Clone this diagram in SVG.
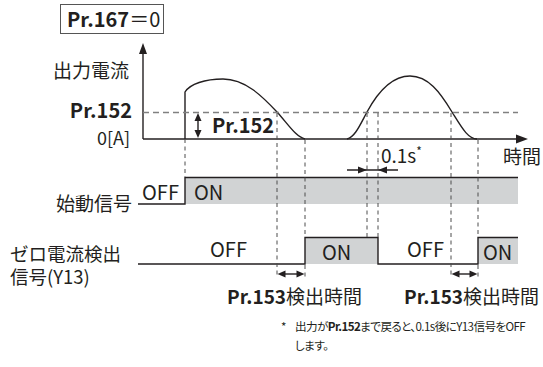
<svg xmlns="http://www.w3.org/2000/svg" width="543" height="367" viewBox="0 0 543 367">
<defs>
<style>
text{font-family:"Noto Sans CJK JP","Noto Sans",sans-serif;fill:#231f20}
.lbl{font-size:19px}
.sig{font-size:20px}
.b{font-weight:bold}
.ln{fill:none;stroke:#231f20;stroke-width:1.4}
.dv{fill:none;stroke:#4d4d4d;stroke-width:1;stroke-dasharray:4,3.5}
.dh{fill:none;stroke:#808080;stroke-width:1.6;stroke-dasharray:6,4}
.gray{fill:#d1d3d4}
.ah{fill:#231f20}
.note{font-size:11.6px;font-feature-settings:"palt";letter-spacing:-0.6px}
</style>
</defs>
<rect width="543" height="367" fill="#fff"/>

<g id="title">
<rect x="60.5" y="4.5" width="103" height="29" fill="#fff" stroke="#555" stroke-width="1"/>
<text x="67" y="27" style="font-size:20px"><tspan class="b">Pr.167</tspan>＝0</text>
</g>

<g id="axes">
<line class="ln" x1="143" y1="139" x2="143" y2="52"/>
<polygon class="ah" points="143,43 139,54 147,54"/>
<line class="ln" x1="143" y1="139" x2="519" y2="139"/>
<polygon class="ah" points="528,139 516,134.5 516,143.5"/>
<text class="lbl" x="129" y="78" text-anchor="end">出力電流</text>
<text class="sig b" x="132" y="118" text-anchor="end">Pr.152</text>
<text class="lbl" x="130" y="145" text-anchor="end" style="font-size:18px">0[A]</text>
<text class="lbl" x="503" y="164">時間</text>
</g>

<g id="current-waveform">
<path class="ln" d="M185,139 V92 C190,84 205,79 223,79 C245,79 262,96 277,112 C288,124 296,137 305,139"/>
<path class="ln" d="M347,139 C355,137 360,125 367,112 C380,88 395,76 410,76 C428,76 440,92 452,112 C462,128 468,139 477,139"/>
</g>

<g id="start-signal">
<rect class="gray" x="185" y="177.5" width="333" height="26.5"/>
<polyline class="ln" points="138,204 185,204 185,177.5 518,177.5"/>
<text class="lbl" x="132" y="211" text-anchor="end">始動信号</text>
<text class="sig" x="142" y="200">OFF</text>
<text class="sig" x="194" y="200">ON</text>
</g>

<g id="zero-current-signal">
<rect class="gray" x="305" y="237.5" width="73" height="26.5"/>
<rect class="gray" x="478" y="237.5" width="40" height="26.5"/>
<polyline class="ln" points="138,264 305,264 305,237.5 378,237.5 378,264 478,264 478,237.5 518,237.5"/>
<text class="lbl" x="10" y="261" style="font-size:18.5px">ゼロ電流検出<tspan x="10" dy="23">信号(Y13)</tspan></text>
<text class="sig" x="210" y="257">OFF</text>
<text class="sig" x="322" y="260">ON</text>
<text class="sig" x="407" y="257">OFF</text>
<text class="sig" x="483" y="260">ON</text>
</g>

<g id="connectors">
<line class="dh" x1="143" y1="112.5" x2="518" y2="112.5"/>
<line class="dv" x1="185" y1="139" x2="185" y2="177"/>
<line class="dv" x1="277" y1="113" x2="277" y2="278"/>
<line class="dv" x1="305" y1="140" x2="305" y2="237"/>
<line class="dv" x1="305" y1="265" x2="305" y2="278"/>
<line class="dv" x1="367" y1="113" x2="367" y2="237"/>
<line class="dv" x1="378" y1="113" x2="378" y2="237"/>
<line class="dv" x1="451" y1="113" x2="451" y2="278"/>
<line class="dv" x1="478" y1="140" x2="478" y2="237"/>
<line class="dv" x1="478" y1="265" x2="478" y2="278"/>

<line class="ln" x1="198" y1="118" x2="198" y2="133" stroke-width="1.2"/>
<polygon class="ah" points="198,113 194.5,121 201.5,121"/>
<polygon class="ah" points="198,138 194.5,130 201.5,130"/>

<line class="ln" x1="347" y1="170" x2="398" y2="170" stroke-width="1.2"/>
<polygon class="ah" points="367,170 358,166.5 358,173.5"/>
<polygon class="ah" points="378,170 387,166.5 387,173.5"/>

<line class="ln" x1="282" y1="274" x2="300" y2="274" stroke-width="1.2"/>
<polygon class="ah" points="277.5,274 285.5,270.5 285.5,277.5"/>
<polygon class="ah" points="304.5,274 296.5,270.5 296.5,277.5"/>
<line class="ln" x1="456" y1="274" x2="473" y2="274" stroke-width="1.2"/>
<polygon class="ah" points="451.5,274 459.5,270.5 459.5,277.5"/>
<polygon class="ah" points="477.5,274 469.5,270.5 469.5,277.5"/>
</g>

<g id="annotations">
<text class="sig b" x="212" y="133">Pr.152</text>
<text class="lbl" x="381" y="163">0.1s<tspan style="font-size:12px" dy="-7">*</tspan></text>
<text class="lbl" x="227" y="304"><tspan class="b">Pr.153</tspan>検出時間</text>
<text class="lbl" x="404" y="304"><tspan class="b">Pr.153</tspan>検出時間</text>
<text class="note" x="281" y="331">*</text>
<text class="note" x="295" y="331">出力が<tspan class="b">Pr.152</tspan>まで戻ると、0.1s後にY13信号をOFF</text>
<text class="note" x="295" y="350">します。</text>
</g>
</svg>
